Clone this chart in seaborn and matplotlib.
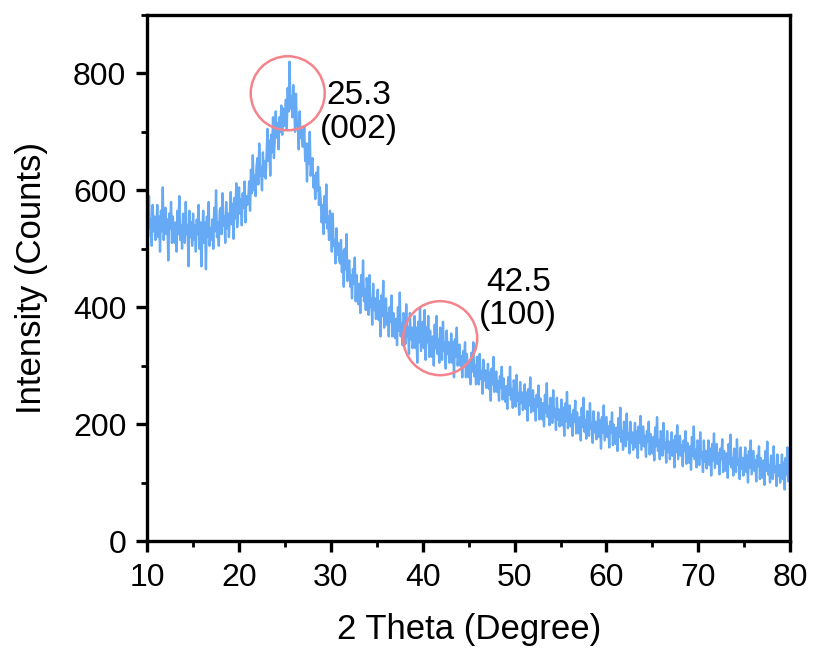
import numpy as np
import pandas as pd
import matplotlib
matplotlib.use("Agg")
import matplotlib.pyplot as plt
from matplotlib.patches import Ellipse
from matplotlib.ticker import MultipleLocator
import seaborn as sns

# 2 theta values, 0.1 degree step, 10 -> 80
two_theta = np.round(np.arange(10.0, 80.0001, 0.1), 1)

# intensity (hand estimated noisy trace), one row per degree
intensity = [
    600, 520, 590, 535, 550, 505, 575, 530, 555, 515,
    535, 575, 520, 555, 495, 565, 530, 605, 515, 545,
    570, 525, 550, 480, 560, 535, 580, 510, 555, 520,
    510, 545, 495, 565, 525, 590, 515, 540, 500, 560,
    555, 510, 580, 525, 540, 470, 565, 520, 545, 505,
    560, 515, 540, 495, 550, 525, 575, 500, 545, 470,
    525, 565, 510, 545, 465, 555, 520, 580, 505, 535,
    515, 550, 500, 570, 530, 600, 520, 545, 505, 565,
    570, 525, 595, 540, 555, 510, 580, 535, 560, 520,
    557, 597, 542, 577, 517, 587, 552, 612, 537, 567,
    605, 560, 585, 540, 595, 570, 615, 545, 590, 575,
    580, 615, 565, 635, 595, 660, 600, 625, 590, 640,
    655, 610, 680, 625, 640, 600, 665, 625, 650, 620,
    665, 705, 650, 685, 625, 695, 665, 725, 655, 690,
    735, 690, 715, 670, 725, 700, 745, 695, 740, 710,
    720, 755, 705, 775, 735, 820, 740, 760, 725, 780,
    745, 700, 765, 710, 715, 670, 735, 690, 705, 675,
    675, 710, 650, 680, 615, 680, 645, 700, 625, 645,
    655, 605, 625, 585, 630, 600, 640, 575, 605, 580,
    545, 575, 525, 590, 545, 610, 535, 555, 515, 565,
    540, 495, 560, 505, 515, 475, 535, 490, 510, 480,
    475, 515, 460, 495, 435, 500, 465, 525, 445, 470,
    480, 435, 455, 415, 465, 440, 485, 410, 455, 425,
    405, 440, 390, 455, 420, 480, 410, 430, 395, 450,
    432, 387, 455, 400, 415, 370, 440, 395, 415, 380,
    393, 430, 378, 410, 350, 420, 385, 445, 365, 395,
    415, 370, 390, 350, 400, 375, 420, 350, 390, 360,
    347, 380, 335, 400, 360, 425, 350, 372, 335, 390,
    382, 337, 405, 350, 365, 320, 390, 345, 365, 330,
    347, 385, 330, 365, 305, 375, 340, 400, 325, 350,
    375, 330, 395, 310, 365, 340, 385, 315, 360, 325,
    315, 350, 300, 370, 330, 385, 320, 345, 305, 365,
    355, 310, 375, 325, 340, 295, 360, 320, 340, 305,
    320, 355, 305, 340, 280, 345, 315, 365, 300, 320,
    336, 300, 316, 280, 325, 305, 340, 280, 320, 295,
    280, 305, 268, 322, 290, 340, 282, 300, 268, 315,
    304, 268, 320, 278, 290, 252, 310, 275, 292, 262,
    274, 303, 260, 288, 240, 295, 268, 315, 255, 275,
    290, 255, 274, 240, 282, 262, 298, 242, 278, 252,
    238, 265, 226, 280, 250, 298, 242, 260, 228, 275,
    266, 230, 284, 240, 252, 216, 272, 236, 254, 224,
    239, 268, 226, 254, 206, 260, 232, 280, 220, 240,
    258, 222, 242, 206, 250, 230, 266, 208, 244, 218,
    208, 236, 196, 250, 220, 270, 212, 230, 198, 245,
    238, 202, 258, 212, 225, 190, 245, 208, 225, 196,
    212, 242, 198, 228, 180, 235, 205, 255, 193, 215,
    232, 196, 216, 180, 224, 204, 240, 184, 220, 193,
    184, 212, 172, 228, 195, 245, 187, 206, 175, 222,
    216, 180, 236, 192, 202, 168, 222, 186, 204, 174,
    191, 220, 178, 206, 158, 212, 185, 232, 172, 192,
    212, 178, 196, 160, 204, 186, 220, 164, 199, 172,
    166, 194, 154, 210, 178, 228, 170, 188, 156, 204,
    198, 162, 218, 174, 184, 150, 204, 168, 186, 156,
    174, 202, 160, 188, 142, 196, 168, 214, 156, 176,
    196, 162, 180, 144, 188, 170, 204, 148, 183, 156,
    150, 178, 138, 194, 162, 212, 154, 172, 140, 188,
    182, 146, 202, 158, 168, 134, 188, 152, 170, 140,
    158, 186, 146, 172, 126, 180, 152, 198, 140, 160,
    180, 146, 164, 128, 172, 154, 188, 132, 168, 140,
    134, 162, 122, 178, 146, 196, 140, 156, 126, 172,
    166, 130, 186, 142, 152, 118, 172, 136, 154, 124,
    143, 172, 130, 158, 112, 166, 138, 184, 125, 145,
    166, 132, 150, 114, 158, 140, 174, 118, 154, 126,
    120, 150, 108, 166, 132, 182, 126, 142, 112, 158,
    154, 118, 174, 130, 140, 106, 160, 124, 142, 112,
    131, 160, 118, 146, 100, 154, 126, 172, 114, 134,
    154, 120, 138, 102, 146, 128, 162, 106, 142, 114,
    108, 138, 96, 154, 120, 170, 114, 130, 100, 146,
    142, 106, 162, 118, 128, 94, 148, 112, 130, 100,
    119, 148, 106, 134, 88, 142, 114, 160, 102, 122,
    120,
]

peak_pos = [25.3, 41.9]
peak_circle_y = [766, 347]
peak_labels = ["25.3\n(002)", "42.5\n(100)"]
label_pos_x = [33.0, 50.4]
label_pos_y = [733, 414]

df = pd.DataFrame({"two_theta": two_theta, "intensity": intensity})

sns.set_theme(style="ticks")
plt.rcParams["font.family"] = ["Liberation Sans", "DejaVu Sans"]

fig = plt.figure(figsize=(8.13, 6.49), dpi=100)
ax = fig.add_axes([0.181, 0.1664, 0.791, 0.8106])

sns.lineplot(data=df, x="two_theta", y="intensity", ax=ax,
             color="#66aaf5", linewidth=1.7, estimator=None, sort=False)

ax.set_xlim(10, 80)
ax.set_ylim(0, 900)
ax.xaxis.set_major_locator(MultipleLocator(10))
ax.xaxis.set_minor_locator(MultipleLocator(5))
ax.yaxis.set_major_locator(MultipleLocator(200))
ax.yaxis.set_minor_locator(MultipleLocator(100))

for s in ax.spines.values():
    s.set_visible(True)
    s.set_linewidth(2.4)
    s.set_color("black")

ax.tick_params(which="major", direction="out", length=8, width=2.4,
               labelsize=23, colors="black")
ax.tick_params(axis="x", which="major", pad=8)
ax.tick_params(axis="y", which="major", pad=7)
ax.tick_params(which="minor", direction="out", length=4.5, width=2.0, colors="black")
ax.tick_params(top=False, right=False, which="both")

ax.set_xlabel("2 Theta (Degree)", fontsize=25, labelpad=14, color="black")
ax.set_ylabel("Intensity (Counts)", fontsize=25, labelpad=18, color="black")

# circles round in pixel space: width/height in data units matched to scale
px_per_x = 643 / 70.0
px_per_y = 526 / 900.0
r_px = 37
for cx, cy in zip(peak_pos, peak_circle_y):
    e = Ellipse((cx, cy), width=2 * r_px / px_per_x, height=2 * r_px / px_per_y,
                fill=False, edgecolor="#f4838b", linewidth=1.8, zorder=5)
    ax.add_patch(e)

for tx, ty, lab in zip(label_pos_x, label_pos_y, peak_labels):
    ax.text(tx, ty, lab, fontsize=24, ha="center", va="center",
            color="black", linespacing=1.1)

fig.savefig("out.png", dpi=100)
